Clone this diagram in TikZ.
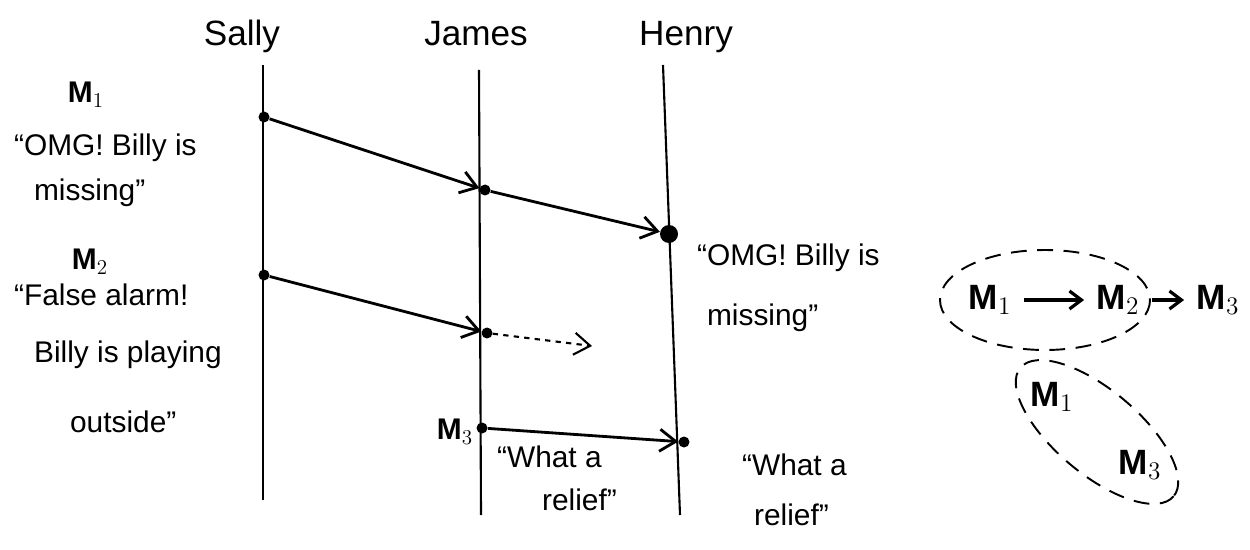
\documentclass[tikz,border=0pt]{standalone}
\usepackage{fontspec}
\setmainfont{Liberation Sans}
\usetikzlibrary{positioning,calc,arrows.meta}

\begin{document}
\begin{tikzpicture}[
    x=0.02cm,y=-0.02cm,
    life/.style={draw=black,line width=1.2pt},
    msg/.style={draw=black,line width=1.6pt,-{Straight Barb[length=3.2mm,width=4.4mm]}},
    ev/.style={circle,fill=black,inner sep=0pt,minimum size=2.2mm},
    bigev/.style={circle,fill=black,inner sep=0pt,minimum size=3.6mm},
    who/.style={font=\fontsize{20}{24}\selectfont,anchor=base},
    txt/.style={font=\fontsize{17}{20}\selectfont,anchor=west,inner sep=1pt},
    mlab/.style={font=\fontsize{17}{20}\selectfont\bfseries,inner sep=1pt},
    big/.style={font=\fontsize{20}{24}\selectfont\bfseries},
    order/.style={msg,line width=1.8pt,shorten <=6pt,shorten >=6pt,
                  -{Straight Barb[length=2.4mm,width=3.6mm]}},
    cloud/.style={draw=black,line width=1.1pt,dash pattern=on 9pt off 6pt}
]
  \useasboundingbox (0,0) rectangle (1250,550);

  % Three processes and their lifelines.
  \node[who] (sally) at (242,46) {Sally};
  \node[who] (james) at (476,46) {James};
  \node[who] (henry) at (686,46) {Henry};
  \coordinate (sT) at (263,65);  \coordinate (sB) at (263,500);
  \coordinate (jT) at (479,70);  \coordinate (jB) at (481,515);
  \coordinate (hT) at (663,65);  \coordinate (hB) at (680,515);
  \draw[life] (sT) -- (sB);
  \draw[life] (jT) -- (jB);
  \draw[life] (hT) -- (hB);

  % Send and receive events.
  \node[ev]    (s1) at (264,117) {};
  \node[ev]    (j1) at (485,190) {};
  \node[bigev] (h1) at (669,234) {};
  \node[ev]    (s2) at (264,275) {};
  \node[ev]    (j2) at (487,333) {};
  \coordinate  (j2x) at (592,346);
  \node[ev]    (j3) at (482,428) {};
  \node[ev]    (h3) at (684,442) {};

  % Messages M1, M2, M3.
  \draw[msg] (s1) -- (j1);
  \draw[msg] (j1) -- (h1);
  \draw[msg] (s2) -- (j2);
  \draw[msg,dashed,line width=1.2pt] (j2) -- (j2x);
  \draw[msg] (j3) -- (h3);

  % Message contents on the left.
  \node[mlab] (m1) at (86,95) {M$_1$};
  \node[txt]  (m1a) at (12,148) {\textquotedblleft OMG! Billy is};
  \node[txt]  (m1b) at (32,193) {missing\textquotedblright};
  \node[mlab] (m2) at (90,262) {M$_2$};
  \node[txt]  (m2a) at (12,295) {\textquotedblleft False alarm!};
  \node[txt]  (m2b) at (32,355) {Billy is playing};
  \node[txt]  (m2c) at (68,422) {outside\textquotedblright};
  \node[mlab] (m3) at (455,432) {M$_3$};
  \node[txt]  (m3a) at (495,457) {\textquotedblleft What a};
  \node[txt]  (m3b) at (540,500) {relief\textquotedblright};

  % What Henry sees.
  \node[txt] (h1a) at (695,258) {\textquotedblleft OMG! Billy is};
  \node[txt] (h1b) at (705,318) {missing\textquotedblright};
  \node[txt] (h3a) at (740,465) {\textquotedblleft What a};
  \node[txt] (h3b) at (752,515) {relief\textquotedblright};

  % Causal order of the messages.
  \node[mlab,big] (c1) at (990,300) {M$_1$};
  \node[mlab,big] (c2) at (1118,300) {M$_2$};
  \node[mlab,big] (c3) at (1218,300) {M$_3$};
  \draw[order] (c1) -- (c2);
  \draw[order] (c2) -- (c3);
  \draw[cloud] (1045,300) ellipse [x radius=105,y radius=50];

  \node[mlab,big] (d1) at (1052,397) {M$_1$};
  \node[mlab,big] (d3) at (1140,465) {M$_3$};
  \draw[cloud] (1097,432) ellipse [x radius=100,y radius=42,rotate=-40];
\end{tikzpicture}
\end{document}
